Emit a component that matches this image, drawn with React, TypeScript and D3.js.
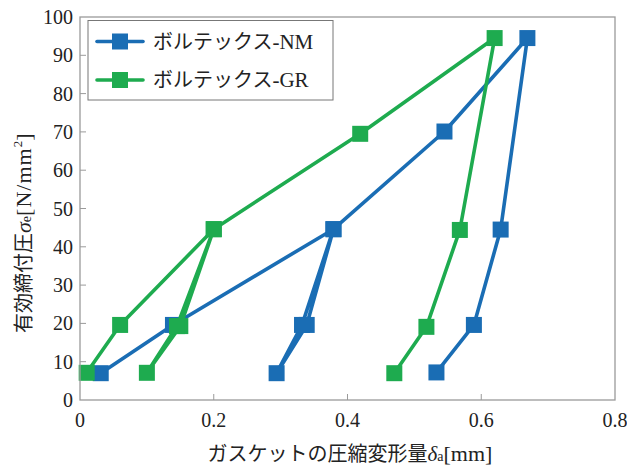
import React from "react";
import * as d3 from "d3";

const xTicks = [0, 0.2, 0.4, 0.6, 0.8];
const yTicks = [0, 10, 20, 30, 40, 50, 60, 70, 80, 90, 100];

const nmX = [0.031, 0.139, 0.379, 0.339, 0.294, 0.332, 0.379, 0.545, 0.669, 0.629, 0.589, 0.533];
const nmY = [7.0, 19.6, 44.6, 19.6, 7.0, 19.6, 44.6, 70.1, 94.5, 44.5, 19.6, 7.2];
const grX = [0.01, 0.06, 0.2, 0.15, 0.1, 0.145, 0.2, 0.419, 0.62, 0.568, 0.518, 0.47];
const grY = [7.1, 19.6, 44.6, 19.3, 7.1, 19.3, 44.6, 69.5, 94.5, 44.4, 19.1, 7.0];

const seriesJa = ["ボルテックス", "ボルテックス"];
const seriesSuffix = ["-NM", "-GR"];
const seriesColors = ["#1a6db4", "#1eab4f"];

const W = 627, H = 467;
const M = { left: 80, right: 615, top: 17, bottom: 400 };
const SERIF = "Liberation Serif";
const CJK = "Noto Sans CJK JP";

export default function App() {
  const x = d3.scaleLinear().domain([0, 0.8]).range([M.left, M.right]);
  const y = d3.scaleLinear().domain([0, 100]).range([M.bottom, M.top]);
  const line = d3.line<[number, number]>().x(d => x(d[0])).y(d => y(d[1]));
  const series = [
    { ja: seriesJa[0], sfx: seriesSuffix[0], color: seriesColors[0], pts: nmX.map((v, i) => [v, nmY[i]] as [number, number]) },
    { ja: seriesJa[1], sfx: seriesSuffix[1], color: seriesColors[1], pts: grX.map((v, i) => [v, grY[i]] as [number, number]) },
  ];
  const sq = 16;
  const axisColor = "#9a9a9a";
  const txt = "#222";
  return (
    <svg width={W} height={H} style={{ position: "absolute", left: 0, top: 0, background: "#fff" }}>
      <rect x={0} y={0} width={W} height={H} fill="#fff" />
      {xTicks.map((t, i) => (
        <g key={"xt" + i}>
          {i > 0 && i < xTicks.length - 1 && (
            <line x1={x(t)} x2={x(t)} y1={M.bottom} y2={M.bottom - 6} stroke={axisColor} strokeWidth={1} />
          )}
          <text x={x(t)} y={M.bottom + 27} fontSize={20} textAnchor="middle" fill={txt} style={{ fontFamily: SERIF }}>{t === 0 ? "0" : t.toFixed(1)}</text>
        </g>
      ))}
      {yTicks.map((t, i) => (
        <g key={"yt" + i}>
          {i > 0 && i < yTicks.length - 1 && (
            <line x1={M.left} x2={M.left + 6} y1={y(t)} y2={y(t)} stroke={axisColor} strokeWidth={1} />
          )}
          <text x={M.left - 7} y={y(t) + 7} fontSize={20} textAnchor="end" fill={txt} style={{ fontFamily: SERIF }}>{t}</text>
        </g>
      ))}
      {series.map((s, si) => (
        <g key={"s" + si}>
          <path d={line(s.pts) || ""} fill="none" stroke={s.color} strokeWidth={3.6} strokeLinejoin="round" />
          {s.pts.map((p, pi) => (
            <rect key={pi} x={x(p[0]) - sq / 2} y={y(p[1]) - sq / 2} width={sq} height={sq} fill={s.color} />
          ))}
        </g>
      ))}
      <rect x={M.left} y={M.top} width={M.right - M.left} height={M.bottom - M.top} fill="none" stroke={axisColor} strokeWidth={1.3} />
      <rect x={88} y={20.5} width={245} height={79.5} fill="#fff" stroke="#777" strokeWidth={1} />
      {series.map((s, si) => {
        const ly = 41.5 + si * 38.5;
        return (
          <g key={"lg" + si}>
            <line x1={97} x2={143} y1={ly} y2={ly} stroke={s.color} strokeWidth={3.6} strokeLinecap="round" />
            <rect x={120 - sq / 2} y={ly - sq / 2} width={sq} height={sq} fill={s.color} />
            <text x={153} y={ly + 7} fontSize={20} fill={txt}>
              <tspan style={{ fontFamily: CJK }}>{s.ja}</tspan>
              <tspan style={{ fontFamily: SERIF }} fontSize={21}>{s.sfx}</tspan>
            </text>
          </g>
        );
      })}
      <text x={350} y={461} fontSize={20} textAnchor="middle" fill={txt}>
        <tspan style={{ fontFamily: CJK }}>ガスケットの圧縮変形量</tspan>
        <tspan style={{ fontFamily: SERIF }} fontStyle="italic" fontSize={21}>δ</tspan>
        <tspan style={{ fontFamily: SERIF }} fontSize={14}>a</tspan>
        <tspan style={{ fontFamily: SERIF }} fontSize={22}>[mm]</tspan>
      </text>
      <text transform="translate(31,333) rotate(-90)" fontSize={20} textAnchor="start" fill={txt}>
        <tspan style={{ fontFamily: CJK }}>有効締付圧</tspan>
        <tspan style={{ fontFamily: SERIF }} fontStyle="italic" fontSize={22}>σ</tspan>
        <tspan style={{ fontFamily: SERIF }} fontSize={14}>e</tspan>
        <tspan style={{ fontFamily: SERIF }} fontSize={22} letterSpacing={1}>[N/mm</tspan>
        <tspan style={{ fontFamily: SERIF }} fontSize={13} dy={-9}>2</tspan>
        <tspan style={{ fontFamily: SERIF }} fontSize={22} dy={9}>]</tspan>
      </text>
    </svg>
  );
}
